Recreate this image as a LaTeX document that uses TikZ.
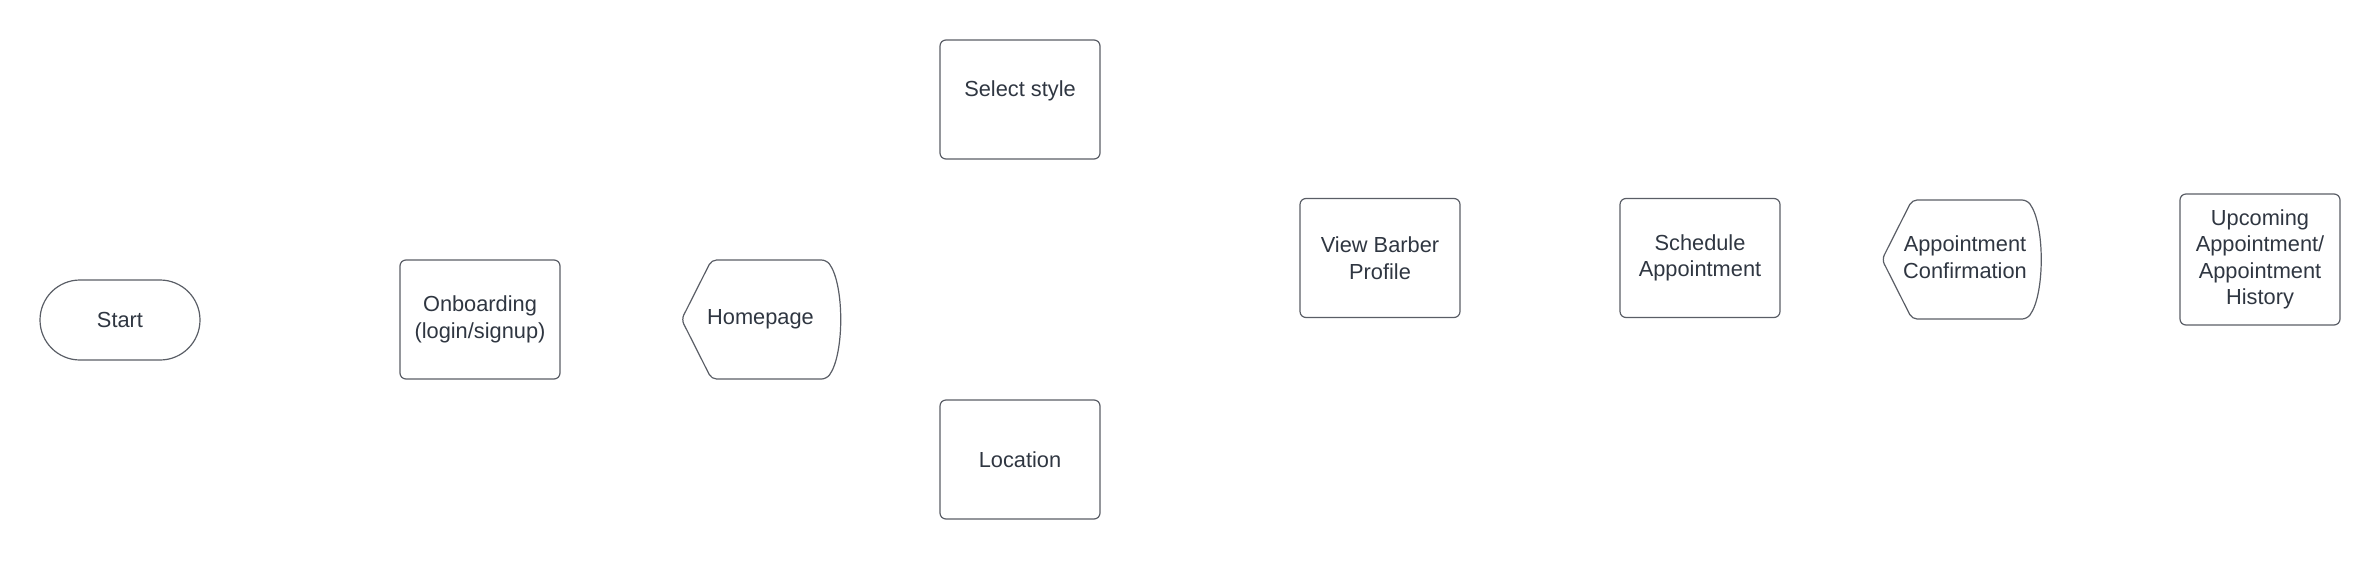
\documentclass[tikz,border=0pt]{standalone}
\usepackage{fontspec}
\setmainfont{Liberation Sans}
\usetikzlibrary{calc}
\definecolor{txt}{HTML}{2F3641}
\definecolor{edge}{HTML}{5A5E66}
\newcommand\labelfont{\fontsize{21.8}{26.5}\selectfont}
\tikzset{
  edgeline/.style={draw=edge, line width=1.2pt, rounded corners=5pt},
  stepbox/.style={draw=edge, line width=1.2pt, rounded corners=6pt, minimum width=160pt, minimum height=119pt, inner sep=0pt, text=txt, font=\labelfont, align=center},
  stadium/.style={stepbox, rounded corners=40pt, minimum height=80pt},
  disptext/.style={inner sep=0pt, text=txt, font=\labelfont, align=center, minimum width=158pt, minimum height=119pt},
  plaintext/.style={inner sep=0pt, text=txt, font=\labelfont, align=center}
}
\newcommand\dispshape[1]{%
  \draw[edgeline] ($(#1)+(-79,0)$) -- ($(#1)+(-49,-59.5)$) -- ($(#1)+(66,-59.5)$)
    .. controls ($(#1)+(84,-35)$) and ($(#1)+(84,35)$) .. ($(#1)+(66,59.5)$)
    -- ($(#1)+(-49,59.5)$) -- cycle;}
\begin{document}
\begin{tikzpicture}[x=1pt,y=-1pt]
\useasboundingbox (0,0) rectangle (2380,560);
\node[stadium] (start) at (120,320) {Start};
\node[stepbox] (onb) at (480,319.5) {Onboarding\\(login/signup)};
\node[disptext] (home) at (760.5,319.5) {Homepage};
\dispshape{home}
\node[stepbox] (sel) at (1020,99.5) {};
\node[plaintext] (selt) at (1020,91) {Select style};
\node[stepbox] (loc) at (1020,459.5) {Location};
\node[stepbox] (vbp) at (1380,258) {View Barber\\Profile};
\node[stepbox] (sch) at (1700,258) {Schedule\\Appointment};
\node[disptext] (conf) at (1961,259.5) {};
\node[plaintext] (conft) at (1965,257) {Appointment\\Confirmation};
\dispshape{conf}
\node[stepbox, minimum height=131pt] (up) at (2260,259.5) {Upcoming\\Appointment/\\Appointment\\History};
\end{tikzpicture}
\end{document}
